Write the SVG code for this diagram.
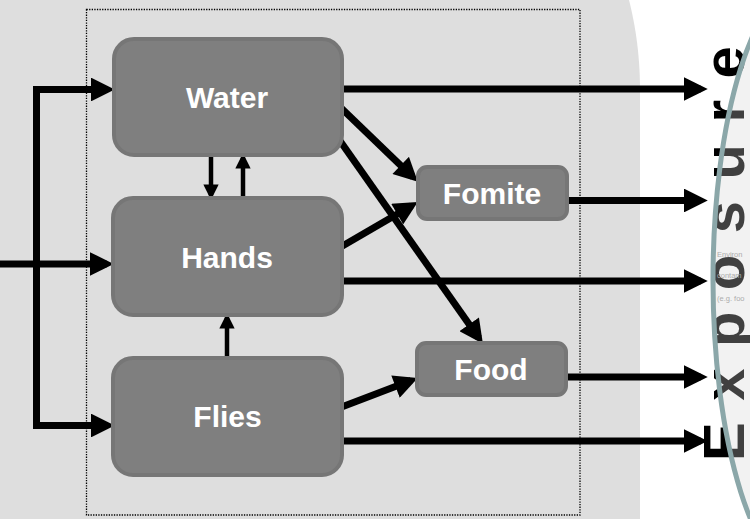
<svg xmlns="http://www.w3.org/2000/svg" width="750" height="519" viewBox="0 0 750 519">
<style>
.node rect{fill:#7f7f7f;stroke:#767676;stroke-width:4}
.node text{font-family:"Liberation Sans",Arial,sans-serif;font-weight:bold;font-size:30px;fill:#fff;text-anchor:middle}
.thick{stroke:#000;stroke-width:7;fill:none;marker-end:url(#ah)}
.thin{stroke:#000;stroke-width:4.5;fill:none;marker-end:url(#ah)}
</style>
<defs>
<marker id="ah" viewBox="0 0 10 10" refX="7" refY="5" markerWidth="3.5" markerHeight="3.4" markerUnits="strokeWidth" orient="auto-start-reverse">
<path d="M0,0 L10,5 L0,10 Z" fill="#000"/>
</marker>
</defs>
<rect width="750" height="519" fill="#fff"/>
<path d="M0,0 H629 C634,20 640,50 640,90 V519 H0 Z" fill="#dedede"/>
<rect x="86.5" y="9.5" width="493.5" height="505.5" fill="none" stroke="#000" stroke-width="1.3" stroke-dasharray="1.3 1.3"/>

<g id="exposure">
<text transform="translate(744,461) rotate(-90)" font-family="Liberation Sans,Arial,sans-serif" font-weight="bold" font-size="58" letter-spacing="21.5" fill="#000">Exposure</text>
<g font-family="Liberation Sans,Arial,sans-serif" font-size="7.5" fill="#9a9a9a">
<text x="717" y="257">Environ</text>
<text x="717" y="278">contam</text>
<text x="717" y="301">(e.g. foo</text>
</g>
<ellipse cx="808" cy="280" rx="95" ry="300" fill="#d4d4d4" fill-opacity="0.3" stroke="#8ba7a9" stroke-width="5"/>
</g>

<g id="connectors">
<path class="thick" d="M107.6,89.5 H36.5 V425.5 H107.6" style="marker-start:url(#ah)"/>
<path class="thick" d="M0,264 H106.6"/>
<path class="thick" d="M342,89 H700.6"/>
<path class="thick" d="M567,200.5 H700.6"/>
<path class="thick" d="M342,281 H700.6"/>
<path class="thick" d="M566,377 H700.6"/>
<path class="thick" d="M342,441 H700.6"/>
<path class="thick" d="M338,105 L412.7,176.9"/>
<path class="thick" d="M338,138 L478.8,338"/>
<path class="thick" d="M339,248 L411.6,205.7"/>
<path class="thick" d="M339,408 L411.1,380.6"/>
<path class="thin" d="M211,155 V195.3"/>
<path class="thin" d="M243,198 V157.7"/>
<path class="thin" d="M227,358 V317.7"/>
</g>

<g id="water" class="node"><rect x="114" y="39" width="228" height="116" rx="20"/><text x="227" y="108">Water</text></g>
<g id="hands" class="node"><rect x="113" y="198" width="229" height="117" rx="20"/><text x="227" y="268">Hands</text></g>
<g id="flies" class="node"><rect x="113" y="358" width="229" height="117" rx="20"/><text x="227.5" y="427">Flies</text></g>
<g id="fomite" class="node"><rect x="418" y="167" width="149" height="52" rx="9"/><text x="492" y="204">Fomite</text></g>
<g id="food" class="node"><rect x="417" y="343" width="149" height="52" rx="9"/><text x="491" y="380">Food</text></g>
</svg>
